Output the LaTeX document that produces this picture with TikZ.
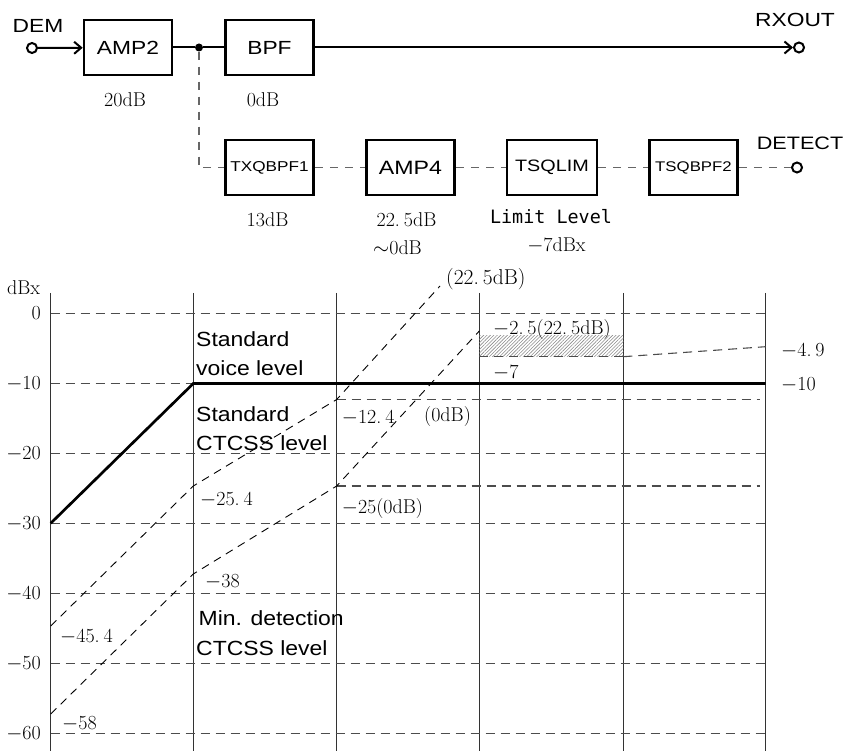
\documentclass[tikz,border=0pt]{standalone}
\usepackage{fontspec}
\usetikzlibrary{arrows.meta,patterns.meta}
\newfontfamily\sfb[FakeStretch=1.2]{Liberation Sans}
\newfontfamily\sfg[FakeStretch=1.12]{Liberation Sans}
\newfontfamily\monof{DejaVu Sans Mono}
\newcommand{\fwdot}{.\kern4pt}
\begin{document}
\begin{tikzpicture}[x=1pt,y=-1pt,
  blk/.style={draw, line width=2.6pt, minimum width=88pt, minimum height=55pt, inner sep=0pt, font=\sfb\fontsize{19}{19}\selectfont},
  sblk/.style={blk, font=\sfb\fontsize{14.3}{14.3}\selectfont},
  term/.style={circle, draw, line width=2pt, minimum size=10pt, inner sep=0pt},
  jdot/.style={circle, fill, minimum size=8pt, inner sep=0pt},
  tlab/.style={inner sep=0pt, font=\sfb\fontsize{19}{19}\selectfont},
  sig/.style={line width=2pt},
  arr/.style={-{Straight Barb[length=7pt,width=12pt,line width=2pt]}},
  tap/.style={dash pattern=on 8pt off 7pt, line width=1.1pt, black!60},
  num/.style={inner sep=0pt, font=\fontsize{20}{20}\selectfont},
  mono/.style={inner sep=0pt, font=\monof\fontsize{18.4}{18.4}\selectfont},
  gtxt/.style={inner sep=0pt, font=\sfg\fontsize{20.5}{20.5}\selectfont},
  vgrid/.style={line width=1.4pt, black!80},
  hgrid/.style={dash pattern=on 9pt off 6pt, line width=1.1pt, black!70},
  diag/.style={dash pattern=on 8pt off 6pt, line width=0.9pt},
  lvl/.style={line width=2.7pt}
]
\useasboundingbox (0,0) rectangle (849,751);

% ---------- block diagram ----------
\node[term] (dem) at (32,48) {};
\node[tlab, anchor=base] (demt) at (38,33) {DEM};
\node[blk] (amp2) at (128,47.5) {AMP2};
\node[jdot] (j) at (199,47.5) {};
\node[blk] (bpf) at (269.5,47.5) {BPF};
\node[term] (rx) at (799,47.5) {};
\node[tlab, anchor=base] (rxt) at (795,26.7) {RXOUT};
\draw[sig, arr] (dem) -- (amp2);
\draw[sig] (amp2) -- (j) -- (bpf);
\draw[sig, arr] (bpf) -- (rx);

\node[sblk] (txq) at (269.5,167.5) {TXQBPF1};
\node[blk, font=\sfb\fontsize{19.3}{19.3}\selectfont] (amp4) at (410.5,167.5) {AMP4};
\node[blk, minimum width=90pt, font=\sfb\fontsize{16.5}{16.5}\selectfont] (tsql) at (552,167.5) {TSQLIM};
\node[sblk, font=\sfb\fontsize{14}{14}\selectfont] (tsqb) at (693.5,167.5) {TSQBPF2};
\node[term] (det) at (797,167.5) {};
\node[tlab, anchor=base, font=\sfb\fontsize{18}{18}\selectfont] (dett) at (800,150) {DETECT};
\draw[tap] (j) |- (txq);
\draw[tap] (txq) -- (amp4);
\draw[tap] (amp4) -- (tsql);
\draw[tap] (tsql) -- (tsqb);
\draw[tap] (tsqb) -- (det);

\node[num, anchor=base] (g1) at (125,106.7) {20dB};
\node[num, anchor=base] (g2) at (263,106.7) {0dB};
\node[num, anchor=base] (g3) at (267.5,226.7) {13dB};
\node[num, anchor=base] (g4) at (406.5,226.7) {22\fwdot5dB};
\node[num, anchor=base west] (g5) at (373,255) {$\sim$0dB};
\node[mono, anchor=base] (g6) at (551,223.3) {Limit Level};
\node[num, anchor=base] (g7) at (556.5,251.7) {$-$7dBx};

% ---------- level chart ----------
\foreach \gx in {50.7,193.3,336.7,479.3,623.3,765.7}
  \draw[vgrid] (\gx,293) -- (\gx,751);
\foreach \gy in {313.3,383.5,453.5,523.3,593.3,663.3,733.3}
  \draw[hgrid] (50.7,\gy) -- (765.7,\gy);
\draw[hgrid] (336.7,399.5) -- (760,399.5);
\draw[hgrid] (336.7,486) -- (760,486);

\fill[pattern={Lines[angle=45,distance=2.4pt,line width=0.6pt]}, pattern color=black!45] (479.3,336) rectangle (623.3,356.7);
\draw[hgrid] (479.3,356.7) -- (623.3,356.7);
\draw[hgrid] (623.3,356.7) -- (765.7,346.7);

\draw[lvl] (50.7,523.3) -- (193.3,383.5) -- (765.7,383.5);

\draw[diag] (50.7,626) -- (193.3,486) -- (336.7,399.5) -- (440,286);
\draw[diag] (50.7,714) -- (193.3,574) -- (336.7,486) -- (479.3,331);

% axis labels
\node[num, anchor=base west] (dbx) at (7,294.3) {dBx};
\node[num, anchor=base east] (y0) at (41,319.6) {0};
\node[num, anchor=base east] (y10) at (41,389.8) {$-$10};
\node[num, anchor=base east] (y20) at (41,459.8) {$-$20};
\node[num, anchor=base east] (y30) at (41,529.6) {$-$30};
\node[num, anchor=base east] (y40) at (41,599.6) {$-$40};
\node[num, anchor=base east] (y50) at (41,669.6) {$-$50};
\node[num, anchor=base east] (y60) at (41,739.6) {$-$60};

% sans labels
\node[gtxt, anchor=base west] (sv1) at (196,346.7) {Standard};
\node[gtxt, anchor=base west] (sv2) at (196,375) {voice level};
\node[gtxt, anchor=base west] (sc1) at (196,421.7) {Standard};
\node[gtxt, anchor=base west] (sc2) at (196,450) {CTCSS level};
\node[gtxt, anchor=base west] (md1) at (198.5,625) {Min. detection};
\node[gtxt, anchor=base west] (md2) at (196,655) {CTCSS level};

% numeric labels
\node[num, anchor=base west, font=\fontsize{21.5}{21.5}\selectfont\addfontfeature{LetterSpace=8}] (n1) at (446,284.5) {(22\fwdot5dB)};
\node[num, anchor=base west] (n2) at (493,335) {$-$2\fwdot5(22\fwdot5dB)};
\node[num, anchor=base west] (n3) at (493,378.3) {$-$7};
\node[num, anchor=base west] (n4) at (781,356.7) {$-$4\fwdot9};
\node[num, anchor=base west] (n5) at (781,390.7) {$-$10};
\node[num, anchor=base west] (n6) at (341.7,423.3) {$-$12\fwdot4};
\node[num, anchor=base west] (n7) at (424,421.7) {(0dB)};
\node[num, anchor=base west] (n8) at (200,505) {$-$25\fwdot4};
\node[num, anchor=base west] (n9) at (341.7,513) {$-$25(0dB)};
\node[num, anchor=base west] (n10) at (205,587) {$-$38};
\node[num, anchor=base west] (n11) at (60,642) {$-$45\fwdot4};
\node[num, anchor=base west] (n12) at (62,729) {$-$58};
\end{tikzpicture}
\end{document}
